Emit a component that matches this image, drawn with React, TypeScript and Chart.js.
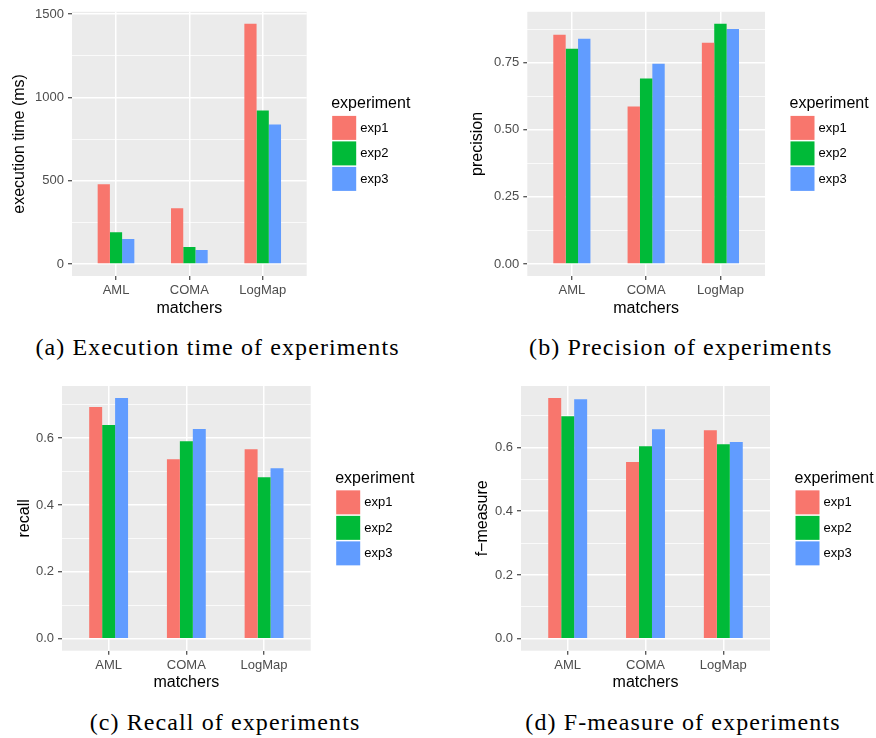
import React, { useEffect, useRef } from "react";
import { Chart, registerables } from "chart.js";

Chart.register(...registerables);

// ---------------- data ----------------
const matchers = ["AML", "COMA", "LogMap"];
const experiments = ["exp1", "exp2", "exp3"];
const experimentColors = ["#F8766D", "#00BA38", "#619CFF"];

const execTimeExp1 = [479, 335, 1442];
const execTimeExp2 = [191, 102, 921];
const execTimeExp3 = [150, 84, 838];

const precisionExp1 = [0.854, 0.587, 0.824];
const precisionExp2 = [0.802, 0.691, 0.895];
const precisionExp3 = [0.839, 0.746, 0.876];

const recallExp1 = [0.693, 0.537, 0.567];
const recallExp2 = [0.639, 0.591, 0.483];
const recallExp3 = [0.72, 0.627, 0.51];

const fmeasureExp1 = [0.755, 0.554, 0.654];
const fmeasureExp2 = [0.698, 0.604, 0.61];
const fmeasureExp3 = [0.751, 0.657, 0.617];

const execTicks = [0, 500, 1000, 1500];
const execTickLabels = ["0", "500", "1000", "1500"];
const precisionTicks = [0, 0.25, 0.5, 0.75];
const precisionTickLabels = ["0.00", "0.25", "0.50", "0.75"];
const recallTicks = [0, 0.2, 0.4, 0.6];
const recallTickLabels = ["0.0", "0.2", "0.4", "0.6"];
const fmeasureTicks = [0, 0.2, 0.4, 0.6];
const fmeasureTickLabels = ["0.0", "0.2", "0.4", "0.6"];

const captions = [
  "(a) Execution time of experiments",
  "(b) Precision of experiments",
  "(c) Recall of experiments",
  "(d) F-measure of experiments",
];

// ---------------- styling / layout ----------------
const SANS = "'Liberation Sans', Arial, Helvetica, sans-serif";
const SERIF = "'Liberation Serif', 'Times New Roman', serif";
const PANEL_BG = "#EBEBEB";
const AXIS_TEXT = "#4D4D4D";
const TICK_COLOR = "#333333";
const TITLE_SIZE = 16;
const TICK_SIZE = 13;

type PanelSpec = {
  series: number[][];
  ticks: number[];
  tickLabels: string[];
  yTitle: string;
  cx: number; cy: number; cw: number; ch: number;
  L: number; T: number; R: number; B: number;
  yTitleX: number; xTitleY: number;
};

const panels: PanelSpec[] = [
  {
    series: [execTimeExp1, execTimeExp2, execTimeExp3],
    ticks: execTicks, tickLabels: execTickLabels, yTitle: "execution time (ms)",
    cx: 0, cy: 0, cw: 440, ch: 320,
    L: 72, T: 11, R: 306.7, B: 276,
    yTitleX: 19.5, xTitleY: 308.5,
  },
  {
    series: [precisionExp1, precisionExp2, precisionExp3],
    ticks: precisionTicks, tickLabels: precisionTickLabels, yTitle: "precision",
    cx: 440, cy: 0, cw: 436, ch: 320,
    L: 527.3, T: 11.5, R: 765, B: 276,
    yTitleX: 478, xTitleY: 308.5,
  },
  {
    series: [recallExp1, recallExp2, recallExp3],
    ticks: recallTicks, tickLabels: recallTickLabels, yTitle: "recall",
    cx: 0, cy: 370, cw: 440, ch: 330,
    L: 62, T: 386, R: 310.7, B: 650.7,
    yTitleX: 25, xTitleY: 683,
  },
  {
    series: [fmeasureExp1, fmeasureExp2, fmeasureExp3],
    ticks: fmeasureTicks, tickLabels: fmeasureTickLabels, yTitle: "f\u2212measure",
    cx: 440, cy: 370, cw: 436, ch: 330,
    L: 521, T: 386, R: 770, B: 650.7,
    yTitleX: 483, xTitleY: 683,
  },
];

const captionPos = [
  { x: 217.5, baseline: 355 },
  { x: 680.8, baseline: 355 },
  { x: 225, baseline: 730 },
  { x: 683, baseline: 730 },
];

const panelBgPlugin = {
  id: "panelBg",
  beforeDraw(chart: any) {
    const { ctx, chartArea } = chart;
    ctx.save();
    ctx.fillStyle = PANEL_BG;
    ctx.fillRect(chartArea.left, chartArea.top, chartArea.right - chartArea.left, chartArea.bottom - chartArea.top);
    ctx.restore();
  },
};

const ggLegendPlugin = {
  id: "ggLegend",
  afterDraw(chart: any) {
    const { ctx, chartArea } = chart;
    const mid = (chartArea.top + chartArea.bottom) / 2;
    const x0 = chartArea.right + 24.5;
    ctx.save();
    ctx.textAlign = "left";
    ctx.textBaseline = "middle";
    ctx.fillStyle = "#000";
    ctx.font = `${TITLE_SIZE}px ${SANS}`;
    ctx.fillText("experiment", x0, mid - 40);
    chart.data.datasets.forEach((ds: any, k: number) => {
      const top = mid - 28 + k * 25.5;
      ctx.fillStyle = ds.backgroundColor;
      ctx.fillRect(x0 + 1, top, 24, 24);
      ctx.fillStyle = "#000";
      ctx.font = `${TICK_SIZE}px ${SANS}`;
      ctx.fillText(ds.label, x0 + 29, top + 12.5);
    });
    ctx.restore();
  },
};

function Panel({ spec }: { spec: PanelSpec }) {
  const ref = useRef<HTMLCanvasElement | null>(null);
  useEffect(() => {
    const s = spec;
    const all = s.series.flat();
    const vmax = Math.max(...all);
    const yMin = -0.05 * vmax;
    const yMax = 1.05 * vmax;
    const step = s.ticks[1] - s.ticks[0];
    const minor = s.ticks.map((t) => t + step / 2).filter((v) => v < yMax);
    const yTickValues = [...s.ticks, ...minor].sort((a, b) => a - b);
    const majorIndex = (v: number) => s.ticks.findIndex((t) => Math.abs(t - v) < 1e-9);
    const isMajor = (v: any) => typeof v === "number" && majorIndex(v) >= 0;
    const lh = TITLE_SIZE * 1.2;

    const yAxisWidth = s.L - s.cx;
    const xAxisHeight = s.cy + s.ch - s.B;

    const chart = new Chart(ref.current as HTMLCanvasElement, {
      type: "bar",
      data: {
        datasets: experiments.map((name, k) => ({
          label: name,
          data: matchers.map((_, i) => ({ x: i + 1, y: s.series[k][i] })),
          backgroundColor: experimentColors[k],
          borderWidth: 0,
          categoryPercentage: 0.5,
          barPercentage: 1,
        })),
      },
      options: {
        animation: false,
        responsive: false,
        maintainAspectRatio: false,
        layout: {
          padding: { left: 0, top: s.T - s.cy, right: s.cx + s.cw - s.R, bottom: 0 },
        },
        plugins: {
          legend: { display: false },
          tooltip: { enabled: false },
        },
        scales: {
          x: {
            type: "linear",
            min: 0.4,
            max: 3.6,
            offset: false,
            afterBuildTicks: (scale: any) => {
              scale.ticks = matchers.map((_, i) => ({ value: i + 1 }));
            },
            afterFit: (scale: any) => {
              scale.height = xAxisHeight;
            },
            ticks: {
              autoSkip: false,
              maxRotation: 0,
              color: AXIS_TEXT,
              font: { size: TICK_SIZE, family: SANS },
              padding: 3,
              callback: (v: any) => matchers[Math.round(v) - 1] ?? "",
            },
            grid: {
              offset: false,
              color: "#FFFFFF",
              lineWidth: 1.5,
              drawTicks: true,
              tickLength: 4,
              tickColor: TICK_COLOR,
              tickWidth: 1.1,
            },
            border: { display: false },
            title: {
              display: true,
              text: "matchers",
              color: "#000",
              font: { size: TITLE_SIZE, family: SANS },
              padding: { top: 0, bottom: s.cy + s.ch - s.xTitleY - lh / 2 },
            },
          },
          y: {
            type: "linear",
            min: yMin,
            max: yMax,
            afterBuildTicks: (scale: any) => {
              scale.ticks = yTickValues.map((v) => ({ value: v }));
            },
            afterFit: (scale: any) => {
              scale.width = yAxisWidth;
            },
            ticks: {
              autoSkip: false,
              color: AXIS_TEXT,
              font: { size: TICK_SIZE, family: SANS },
              padding: 4,
              callback: (v: any) => {
                const i = majorIndex(v);
                return i >= 0 ? s.tickLabels[i] : "";
              },
            },
            grid: {
              color: "#FFFFFF",
              lineWidth: (c: any) => (isMajor(c.tick && c.tick.value) ? 1.5 : 0.75),
              drawTicks: true,
              tickLength: 4,
              tickColor: (c: any) => (isMajor(c.tick && c.tick.value) ? TICK_COLOR : "rgba(0,0,0,0)"),
              tickWidth: 1.1,
            },
            border: { display: false },
            title: {
              display: true,
              text: s.yTitle,
              color: "#000",
              font: { size: TITLE_SIZE, family: SANS },
              padding: { top: s.yTitleX - s.cx - lh / 2, bottom: 0 },
            },
          },
        },
      } as any,
      plugins: [panelBgPlugin, ggLegendPlugin],
    });
    return () => chart.destroy();
  }, [spec]);

  return (
    <canvas
      ref={ref}
      width={spec.cw}
      height={spec.ch}
      style={{ position: "absolute", left: spec.cx, top: spec.cy, width: spec.cw, height: spec.ch }}
    />
  );
}

export default function App() {
  const capSize = 24;
  return (
    <div
      style={{
        position: "fixed",
        left: 0,
        top: 0,
        width: 876,
        height: 738,
        background: "#FFFFFF",
        overflow: "hidden",
      }}
    >
      {panels.map((p, i) => (
        <Panel key={i} spec={p} />
      ))}
      {captions.map((c, i) => (
        <div
          key={"c" + i}
          style={{
            position: "absolute",
            left: captionPos[i].x - 250,
            width: 500,
            top: captionPos[i].baseline - 0.8375 * capSize,
            textAlign: "center",
            fontFamily: SERIF,
            fontSize: capSize,
            lineHeight: `${capSize}px`,
            letterSpacing: "1.1px",
            color: "#000",
            whiteSpace: "nowrap",
          }}
        >
          {c}
        </div>
      ))}
    </div>
  );
}
